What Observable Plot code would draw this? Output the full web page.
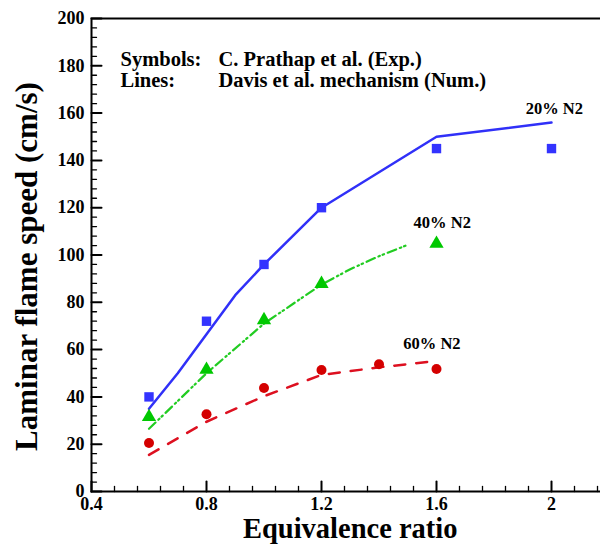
<!DOCTYPE html>
<html>
<head>
<meta charset="utf-8">
<script src="https://cdn.jsdelivr.net/npm/d3@7"></script>
<script src="https://cdn.jsdelivr.net/npm/@observablehq/plot@0.6"></script>
<style>
html, body { margin: 0; padding: 0; background: #fff; overflow: hidden; }
svg { display: block; }
</style>
</head>
<body>
<div id="chart"></div>
<script>
// Experimental (symbols) — C. Prathap et al.
const phiExp20 = [0.6, 0.8, 1.0, 1.2, 1.6, 2.0];
const sExp20   = [40, 72, 96, 120, 145, 145];
const phiExp40 = [0.6, 0.8, 1.0, 1.2, 1.6];
const sExp40   = [31.5, 51.5, 72.5, 87.8, 104.8];
const phiExp60 = [0.6, 0.8, 1.0, 1.2, 1.4, 1.6];
const sExp60   = [20.5, 32.7, 43.8, 51.4, 53.8, 51.8];

// Numerical (lines) — Davis et al. mechanism
const phiNum20 = [0.6, 0.7, 0.8, 0.9, 1.0, 1.2, 1.6, 2.0];
const sNum20   = [35, 50, 66.5, 83, 96, 120, 150, 156];
const phiNum40 = [0.6, 0.8, 1.0, 1.2, 1.3, 1.4, 1.5];
const sNum40   = [26.5, 50, 71, 87.5, 94, 99.5, 104.3];
const phiNum60 = [0.6, 0.8, 1.0, 1.2, 1.4, 1.6];
const sNum60   = [15.5, 29.5, 40.3, 49.3, 52.5, 55.2];

// Series annotations
const labelText = ["20% N2", "40% N2", "60% N2"];
const labelPhi  = [2.01, 1.62, 1.584];
const labelS    = [162, 113.5, 62.6];

// Legend text
const legendKeys = ["Symbols:", "Lines:"];
const legendVals = ["C. Prathap et al. (Exp.)", "Davis et al. mechanism (Num.)"];

// Axes
const xTitle = "Equivalence ratio";
const yTitle = "Laminar flame speed (cm/s)";
const xMajor = [0.4, 0.8, 1.2, 1.6, 2.0];
const xTickLabels = ["0.4", "0.8", "1.2", "1.6", "2"];
const yMajor = [0, 20, 40, 60, 80, 100, 120, 140, 160, 180, 200];
const yTickLabels = ["0", "20", "40", "60", "80", "100", "120", "140", "160", "180", "200"];
const xMinor = d3.range(5, 28).filter(i => i % 5 !== 0).map(i => i * 0.08);
const yMinor = d3.range(0, 51).filter(i => i % 5 !== 0).map(i => i * 4);

const FONT = "'Liberation Serif','Times New Roman',Times,serif";
const BLUE = "#3333ff", GREEN = "#00c800", RED = "#d40000";
const BLUE_L = "#3030f8", GREEN_L = "#22cc22", RED_L = "#dd1020";

const rows = (xs, ys) => xs.map((x, i) => ({x, y: ys[i]}));
const tickShape = {draw(c, l) { c.moveTo(0, 0); c.lineTo(0, -l); }};
const txt = {fontWeight: "bold", fontFamily: FONT, fill: "black", lineAnchor: "middle"};
const legendDy = [40.5, 61.5];

const chart = Plot.plot({
  width: 600,
  height: 545,
  marginLeft: 91,
  marginRight: -8.5,
  marginTop: 18,
  marginBottom: 54,
  x: {domain: [0.4, 2.2], axis: null},
  y: {domain: [0, 200], axis: null},
  style: {fontFamily: FONT, background: "white", overflow: "hidden"},
  marks: [
    // numerical lines
    Plot.line(rows(phiNum20, sNum20), {x: "x", y: "y", stroke: BLUE_L, strokeWidth: 2.5}),
    Plot.line(rows(phiNum40, sNum40), {x: "x", y: "y", stroke: GREEN_L, strokeWidth: 2.2, strokeDasharray: "9,4,1.5,3,1.5,4"}),
    Plot.line(rows(phiNum60, sNum60), {x: "x", y: "y", stroke: RED_L, strokeWidth: 2.5, strokeDasharray: "11,11"}),
    // experimental symbols
    Plot.dot(rows(phiExp20, sExp20), {x: "x", y: "y", symbol: "square", r: 5.3, fill: BLUE, stroke: "none"}),
    Plot.dot(rows(phiExp40, sExp40), {x: "x", y: "y", symbol: "triangle", r: 5.3, fill: GREEN, stroke: "none"}),
    Plot.dot(rows(phiExp60, sExp60), {x: "x", y: "y", symbol: "circle", r: 5, fill: RED, stroke: "none"}),
    // frame
    Plot.frame({stroke: "black", strokeWidth: 2}),
    // inward ticks
    Plot.vector(xMajor, {x: d => d, frameAnchor: "bottom", length: 10, rotate: 0, anchor: "start", shape: tickShape, stroke: "black", strokeWidth: 2}),
    Plot.vector(xMinor, {x: d => d, frameAnchor: "bottom", length: 5, rotate: 0, anchor: "start", shape: tickShape, stroke: "black", strokeWidth: 1.3}),
    Plot.vector(yMajor, {y: d => d, frameAnchor: "left", length: 10, rotate: 90, anchor: "start", shape: tickShape, stroke: "black", strokeWidth: 2}),
    Plot.vector(yMinor, {y: d => d, frameAnchor: "left", length: 5, rotate: 90, anchor: "start", shape: tickShape, stroke: "black", strokeWidth: 1.3}),
    // tick labels
    Plot.text(xMajor, {x: d => d, text: (d, i) => xTickLabels[i], frameAnchor: "bottom", textAnchor: "middle", dy: 12.5, fontSize: 18, ...txt}),
    Plot.text(yMajor, {y: d => d, text: (d, i) => yTickLabels[i], frameAnchor: "left", textAnchor: "end", dx: -7, fontSize: 18, ...txt}),
    // axis titles
    Plot.text([xTitle], {text: d => d, frameAnchor: "bottom", textAnchor: "middle", dy: 37, fontSize: 28.5, ...txt}),
    Plot.text([yTitle], {text: d => d, frameAnchor: "left", textAnchor: "middle", rotate: -90, dx: -64, dy: 11.5, fontSize: 31, ...txt}),
    // legend text (two rows)
    ...[0, 1].map(i => Plot.text([legendKeys[i]], {text: d => d, frameAnchor: "top-left", textAnchor: "start", dx: 29, fontSize: 20.5, ...txt, dy: legendDy[i]})),
    ...[0, 1].map(i => Plot.text([legendVals[i]], {text: d => d, frameAnchor: "top-left", textAnchor: "start", dx: 127, fontSize: 20.5, ...txt, dy: legendDy[i]})),
    // series labels
    Plot.text(labelText, {x: (d, i) => labelPhi[i], y: (d, i) => labelS[i], text: d => d, fontSize: 16.5, ...txt})
  ]
});
document.getElementById("chart").appendChild(chart);
</script>
</body>
</html>
